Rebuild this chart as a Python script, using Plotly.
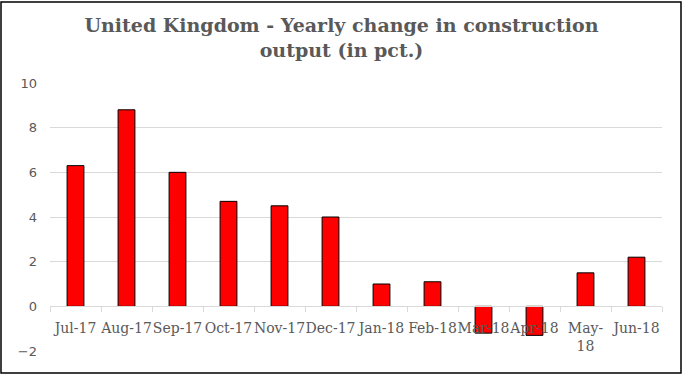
import plotly.graph_objects as go

categories = ["Jul-17", "Aug-17", "Sep-17", "Oct-17", "Nov-17", "Dec-17",
              "Jan-18", "Feb-18", "Mar-18", "Apr-18", "May-18", "Jun-18"]
tick_labels = ["Jul-17", "Aug-17", "Sep-17", "Oct-17", "Nov-17", "Dec-17",
               "Jan-18", "Feb-18", "Mar-18", "Apr-18", "May-<br>18", "Jun-18"]
values = [6.3, 8.8, 6.0, 4.7, 4.5, 4.0, 1.0, 1.1, -1.2, -1.3, 1.5, 2.2]
y_ticks = [-2, 0, 2, 4, 6, 8, 10]

W, H = 683, 376
ML, MR, MT, MB = 50, 21, 83, 25
y_min, y_max = -2, 10

fig = go.Figure()
fig.add_trace(go.Bar(
    x=categories, y=values,
    marker=dict(color="#ff0000", line=dict(color="#000000", width=1)),
    hoverinfo="x+y",
))

zero_pos = (0 - y_min) / (y_max - y_min)

fig.update_layout(
    width=W, height=H,
    margin=dict(l=ML, r=MR, t=MT, b=MB),
    paper_bgcolor="white", plot_bgcolor="white",
    bargap=0.67,
    showlegend=False,
    title=dict(
        text="<b>United Kingdom - Yearly change in construction<br>output (in pct.)</b>",
        x=0.5, xref="container", xanchor="center",
        y=1 - 32 / H, yref="container", yanchor="middle",
        font=dict(family="DejaVu Serif", size=19, color="#595959"),
    ),
    xaxis=dict(
        type="category",
        tickmode="array", tickvals=categories, ticktext=tick_labels,
        anchor="free", position=zero_pos,
        showline=True, linecolor="#d9d9d9", linewidth=1,
        ticks="outside", tickson="boundaries", ticklen=5, tickcolor="#d9d9d9",
        tickfont=dict(family="DejaVu Serif", size=14, color="#595959"),
        tickangle=0,
        ticklabelstandoff=9,
        showgrid=False,
    ),
    yaxis=dict(
        range=[y_min, y_max],
        tickmode="array", tickvals=y_ticks,
        showgrid=True, gridcolor="#d9d9d9", gridwidth=1,
        zeroline=False,
        showline=False,
        tickfont=dict(family="DejaVu Sans", size=13, color="#595959"),
        ticklabelstandoff=12,
    ),
)

# outer frame around the chart
pw = W - ML - MR
ph = H - MT - MB
fig.add_shape(
    type="rect", xref="paper", yref="paper",
    x0=(1 - ML) / pw, x1=(681 - ML) / pw,
    y0=((H - MB) - 373) / ph, y1=((H - MB) - 2) / ph,
    line=dict(color="#000000", width=1.5), fillcolor="rgba(0,0,0,0)",
    layer="above",
)

fig.write_html(
    "out.html",
    config={"displayModeBar": False},
    post_script="document.body.style.margin='0px';document.body.style.overflow='hidden';",
)
